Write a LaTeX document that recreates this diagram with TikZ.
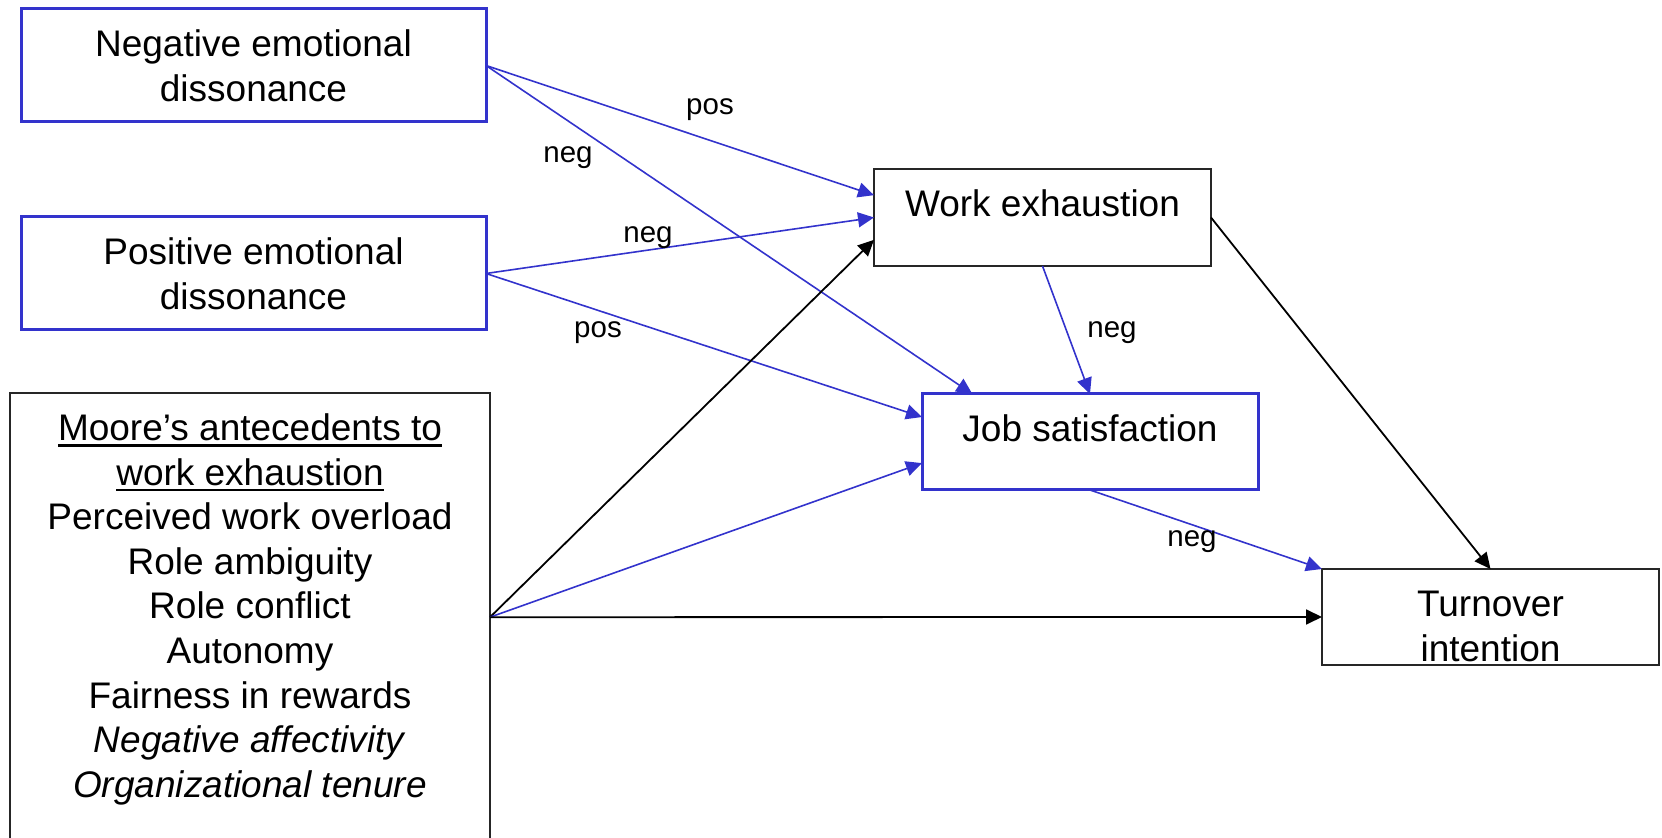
\documentclass[tikz,border=0pt]{standalone}
\usepackage{fontspec}
\setmainfont{Liberation Sans}
\usetikzlibrary{arrows.meta, calc}
\definecolor{pathblue}{RGB}{51,51,204}
\newlength\ulwidth
% heavier underline for the heading lines
\newcommand{\headul}[1]{\settowidth{\ulwidth}{#1}\rlap{\rule[-3pt]{\ulwidth}{1.1pt}}#1}

\begin{document}
\begin{tikzpicture}[x=0.5pt, y=-0.5pt,
  box/.style={draw, anchor=north west, align=center, outer sep=0pt,
    inner xsep=0pt, inner ysep=0pt,
    font=\fontsize{18.5}{22.3}\selectfont},
  bluebox/.style={box, draw=pathblue, line width=1.5pt},
  blackbox/.style={box, draw=black!85, line width=0.75pt},
  blu/.style={pathblue, line width=0.8pt, -{Triangle[length=8pt,width=7.5pt]}},
  blk/.style={black, line width=0.9pt, -{Triangle[length=8pt,width=7.5pt]}},
  sign/.style={anchor=base, inner sep=0pt, font=\fontsize{14.75}{17}\selectfont}]
\useasboundingbox (0,0) rectangle (1662,838);
% variables (text sits at the top of each box)
\node[bluebox, minimum width=232.5pt, text height=46.1pt, text depth=10.4pt] (negdis) at (21,9) {Negative emotional\\dissonance};
\node[bluebox, minimum width=232.5pt, text height=46.1pt, text depth=10.4pt] (posdis) at (21,217) {Positive emotional\\dissonance};
\node[blackbox, minimum width=240pt, text height=202.2pt, text depth=22pt] (moore) at (10,393)
  {\headul{Moore’s antecedents to}\\\headul{work exhaustion}\\Perceived work overload\\Role ambiguity\\Role conflict\\Autonomy\\Fairness in rewards\\\textit{Negative affectivity}\\\textit{Organizational tenure}};
\node[blackbox, minimum width=168.5pt, text height=23.8pt, text depth=24.7pt] (work) at (874,169) {Work exhaustion};
\node[bluebox, minimum width=168pt, text height=23.8pt, text depth=24.2pt] (job) at (922,394) {Job satisfaction};
\node[blackbox, minimum width=168.5pt, text height=46.1pt, text depth=1.9pt] (turn) at (1322,569) {Turnover\\intention};
% paths
\draw[blu] (negdis.east) -- ($(work.north west)!.27!(work.south west)$);
\draw[blu] (negdis.east) -- ($(job.north west)!.15!(job.north east)$);
\draw[blu] (posdis.east) -- (work.west);
\draw[blu] (posdis.east) -- ($(job.north west)!.24!(job.south west)$);
\draw[blk] (moore.east) -- ($(work.north west)!.73!(work.south west)$);
\draw[blu] (moore.east) -- ($(job.north west)!.72!(job.south west)$);
\draw[blk] (moore.east) -- (turn.west);
\draw[blu] (work.south) -- (job.north);
\draw[blk] (work.east) -- (turn.north);
\draw[blu] (job.south) -- (turn.north west);
% signs
\node[sign] (s1) at (710,115) {pos};
\node[sign] (s2) at (568,163) {neg};
\node[sign] (s3) at (648,243) {neg};
\node[sign] (s4) at (598,338) {pos};
\node[sign] (s5) at (1112,338) {neg};
\node[sign] (s6) at (1192,547) {neg};
\end{tikzpicture}
\end{document}
